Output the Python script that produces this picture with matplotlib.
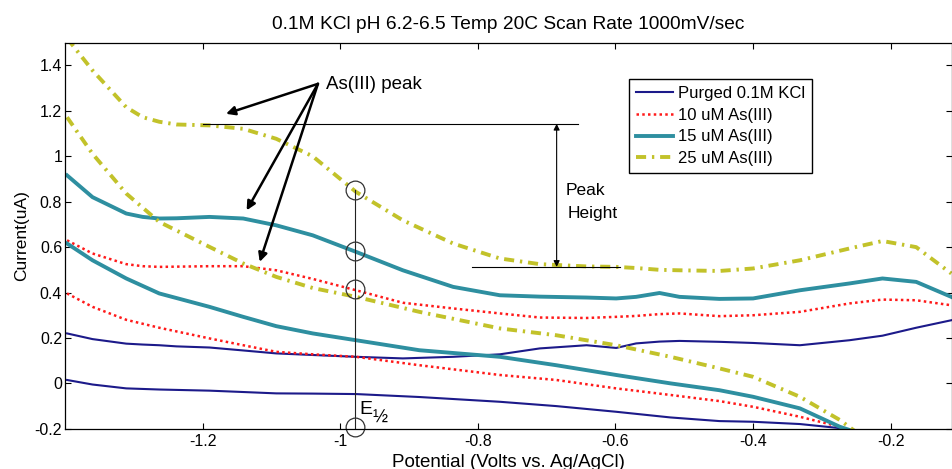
import numpy as np
import matplotlib
matplotlib.use("Agg")
import matplotlib.pyplot as plt

plt.rcParams["font.family"] = ["Liberation Sans", "DejaVu Sans"]
plt.rcParams["axes.unicode_minus"] = False

# potentials (V vs Ag/AgCl), forward (upper) and reverse (lower) sweeps
pot_up = [-1.397, -1.36, -1.311, -1.287, -1.263, -1.238, -1.19, -1.141, -1.093, -1.04,
          -0.977, -0.909, -0.836, -0.768, -0.71, -0.642, -0.599, -0.57, -0.536, -0.507,
          -0.449, -0.40, -0.332, -0.26, -0.212, -0.163, -0.112]
pot_down = [-1.397, -1.36, -1.311, -1.263, -1.19, -1.141, -1.093, -1.04, -0.977,
            -0.885, -0.768, -0.686, -0.599, -0.52, -0.449, -0.40, -0.332, -0.274, -0.25]

# currents (uA)
kcl_up = [0.22, 0.195, 0.175, 0.171, 0.168, 0.163, 0.158, 0.145, 0.132, 0.125, 0.117,
          0.11, 0.117, 0.128, 0.154, 0.168, 0.156, 0.176, 0.184, 0.187, 0.183, 0.178,
          0.168, 0.19, 0.21, 0.245, 0.278]
kcl_down = [0.015, -0.005, -0.022, -0.027, -0.032, -0.038, -0.044, -0.045, -0.047,
            -0.06, -0.081, -0.10, -0.125, -0.15, -0.166, -0.169, -0.179, -0.197, -0.215]

as10_up = [0.63, 0.572, 0.525, 0.516, 0.513, 0.514, 0.516, 0.516, 0.498, 0.46, 0.41,
           0.355, 0.33, 0.308, 0.29, 0.288, 0.293, 0.297, 0.305, 0.308, 0.296, 0.30,
           0.315, 0.352, 0.369, 0.366, 0.344]
as10_down = [0.396, 0.337, 0.28, 0.245, 0.198, 0.168, 0.139, 0.128, 0.117, 0.08, 0.037,
             0.015, -0.022, -0.051, -0.078, -0.103, -0.147, -0.191, -0.215]

as15_up = [0.916, 0.82, 0.748, 0.733, 0.726, 0.727, 0.733, 0.726, 0.696, 0.652, 0.579,
           0.498, 0.425, 0.388, 0.382, 0.378, 0.374, 0.381, 0.398, 0.381, 0.372, 0.374,
           0.41, 0.44, 0.462, 0.447, 0.381]
as15_down = [0.616, 0.542, 0.462, 0.396, 0.337, 0.293, 0.252, 0.22, 0.19, 0.146, 0.117,
             0.08, 0.037, 0.0, -0.03, -0.059, -0.11, -0.191, -0.215]

as25_up = [1.52, 1.378, 1.216, 1.172, 1.152, 1.14, 1.136, 1.121, 1.077, 1.0, 0.843,
           0.718, 0.616, 0.55, 0.525, 0.515, 0.513, 0.508, 0.50, 0.498, 0.495, 0.506,
           0.542, 0.594, 0.627, 0.60, 0.484]
as25_down = [1.172, 1.011, 0.836, 0.711, 0.601, 0.528, 0.469, 0.42, 0.381, 0.315, 0.242,
             0.212, 0.168, 0.117, 0.066, 0.029, -0.059, -0.161, -0.215]

labels = ["Purged 0.1M KCl", "10 uM As(III)", "15 uM As(III)", "25 uM As(III)"]

# annotation values
e_half = -0.978
e_half_marks = [0.85, 0.582, 0.415, -0.19]
peak_top, peak_base = 1.143, 0.513


def loop(up, down):
    x = np.concatenate([pot_up, [np.nan], pot_down])
    y = np.concatenate([up, [np.nan], down])
    return x, y


fig = plt.figure(figsize=(9.53, 4.69), dpi=100)
ax = fig.add_axes([0.0682, 0.0857, 0.9307, 0.8232])

styles = [
    dict(color="#1c1a8a", lw=1.5, ls="-"),
    dict(color="#ff1a1a", lw=1.8, ls=(0, (1, 1.3))),
    dict(color="#2e8fa0", lw=2.8, ls="-"),
    dict(color="#c2c22a", lw=2.8, ls=(0, (2.6, 1.5, 0.6, 1.5))),
]
series = [(kcl_up, kcl_down), (as10_up, as10_down), (as15_up, as15_down), (as25_up, as25_down)]
for (up, down), st, lab in zip(series, styles, labels):
    x, y = loop(up, down)
    ax.plot(x, y, label=lab, **st)

ax.set_xlim(-1.4, -0.111)
ax.set_ylim(-0.2, 1.5)
ax.set_xticks(np.arange(-1.2, -0.19, 0.2))
ax.set_yticks(np.arange(-0.2, 1.41, 0.2))
ax.xaxis.set_major_formatter(matplotlib.ticker.FormatStrFormatter("%g"))
ax.yaxis.set_major_formatter(matplotlib.ticker.FormatStrFormatter("%g"))
ax.tick_params(direction="in", length=4, width=0.8, top=True, right=True,
               labelsize=11.5)
ax.tick_params(axis="y", pad=2)
ax.tick_params(axis="x", pad=4)
for sp in ax.spines.values():
    sp.set_linewidth(0.9)

ax.set_title("0.1M KCl pH 6.2-6.5 Temp 20C Scan Rate 1000mV/sec", fontsize=13.8, pad=10)
ax.set_xlabel("Potential (Volts vs. Ag/AgCl)", fontsize=13.5, labelpad=3)
ax.set_ylabel("Current(uA)", fontsize=12.5, labelpad=4)

ax.legend(loc="upper left", bbox_to_anchor=(0.636, 0.906), borderaxespad=0,
          fontsize=12, fancybox=False, edgecolor="black", framealpha=1,
          handlelength=2.2, handletextpad=0.3, labelspacing=0.4, borderpad=0.42)

# As(III) peak arrows
start = (-1.0324, 1.319)
for tip in [(-1.166, 1.187), (-1.136, 0.762), (-1.117, 0.535)]:
    ax.annotate("", xy=tip, xytext=start,
                arrowprops=dict(arrowstyle="-|>", lw=1.8, color="black",
                                mutation_scale=13, shrinkA=0, shrinkB=0))
ax.text(-1.021, 1.316, "As(III) peak", fontsize=13.5, va="center", ha="left")

# peak height construction
ax.plot([-1.2, -0.655], [peak_top, peak_top], color="black", lw=0.8)
ax.plot([-0.808, -0.594], [peak_base, peak_base], color="black", lw=0.8)
ax.annotate("", xy=(-0.6855, peak_base), xytext=(-0.6855, peak_top),
            arrowprops=dict(arrowstyle="<|-|>", lw=0.8, color="black",
                            mutation_scale=9, shrinkA=0, shrinkB=0))
ax.text(-0.672, 0.85, "Peak", fontsize=12.5, va="center", ha="left")
ax.text(-0.670, 0.749, "Height", fontsize=12.5, va="center", ha="left")

# E 1/2 marker
ax.plot([e_half, e_half], [e_half_marks[0], -0.2], color="#222222", lw=0.8)
ax.plot([e_half] * len(e_half_marks), e_half_marks, ls="none", marker="o",
        ms=13.5, mfc="none", mec="#333333", mew=0.9, clip_on=False)
ax.text(-0.972, -0.117, "E", fontsize=14, va="center", ha="left")
ax.text(-0.953, -0.155, "\u00bd", fontsize=13, va="center", ha="left")

fig.savefig("out.png", dpi=100)
